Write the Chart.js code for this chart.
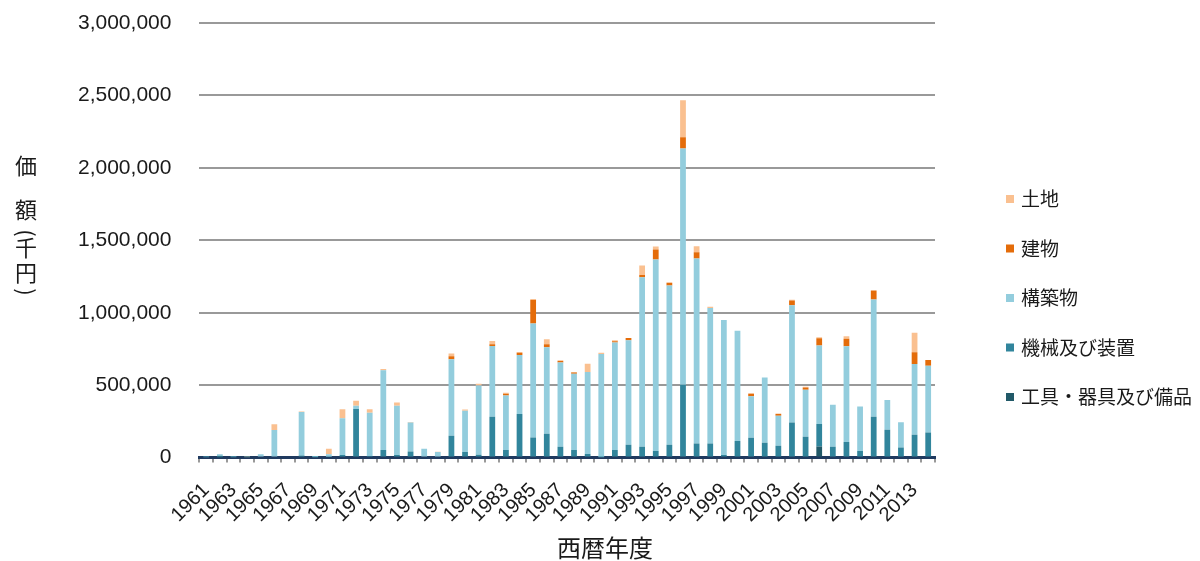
<!DOCTYPE html>
<html>
<head>
<meta charset="utf-8">
<script src="https://cdn.jsdelivr.net/npm/chart.js@4/dist/chart.umd.min.js"></script>
<style>
  html, body { margin: 0; padding: 0; background: #fff; }
  #wrap { width: 1200px; height: 561px; }
</style>
</head>
<body>
<div id="wrap"><canvas id="c" width="1200" height="561"></canvas></div>
<script>
// 西暦年度
const years = [
  '1961','1962','1963','1964','1965','1966','1967','1968','1969','1970',
  '1971','1972','1973','1974','1975','1976','1977','1978','1979','1980',
  '1981','1982','1983','1984','1985','1986','1987','1988','1989','1990',
  '1991','1992','1993','1994','1995','1996','1997','1998','1999','2000',
  '2001','2002','2003','2004','2005','2006','2007','2008','2009','2010',
  '2011','2012','2013','2014'
];

// 価額(千円) by asset class, stacked bottom to top
const tools = [ // 工具・器具及び備品
  0, 3000, 0, 0, 0, 0, 0, 0, 0, 0,
  0, 0, 0, 0, 0, 0, 0, 0, 0, 0,
  0, 0, 0, 0, 0, 0, 0, 0, 0, 0,
  0, 0, 0, 0, 0, 0, 0, 0, 0, 0,
  0, 0, 0, 0, 0, 76000, 0, 0, 0, 0,
  0, 0, 0, 0
];
const machinery = [ // 機械及び装置
  3000, 10000, 2000, 2000, 8000, 8000, 0, 15000, 3000, 5000,
  17000, 335000, 10000, 52000, 17000, 42000, 0, 0, 150000, 39000,
  19000, 282000, 53000, 301000, 139000, 164000, 74000, 53000, 25000, 3000,
  53000, 88000, 74000, 46000, 88000, 503000, 97000, 97000, 18000, 115000,
  136000, 103000, 81000, 242000, 143000, 155000, 74000, 108000, 46000, 282000,
  192000, 69000, 157000, 173000
];
const structures = [ // 構築物
  2000, 10000, 5000, 0, 15000, 182000, 0, 300000, 8000, 18000,
  254000, 23000, 300000, 550000, 340000, 200000, 61000, 38000, 528000, 285000,
  479000, 488000, 375000, 407000, 787000, 597000, 583000, 525000, 565000, 712000,
  741000, 722000, 1171000, 1321000, 1100000, 1630000, 1277000, 936000, 931000, 761000,
  288000, 449000, 207000, 810000, 325000, 542000, 291000, 660000, 307000, 810000,
  205000, 175000, 489000, 461000
];
const buildings = [ // 建物
  0, 0, 0, 0, 0, 0, 0, 0, 0, 0,
  0, 0, 0, 0, 0, 0, 0, 0, 21000, 0,
  0, 12000, 12000, 16000, 162000, 21000, 9000, 9000, 0, 0,
  9000, 16000, 16000, 69000, 18000, 78000, 44000, 0, 0, 0,
  16000, 0, 12000, 32000, 16000, 51000, 0, 53000, 0, 62000,
  0, 0, 81000, 39000
];
const land = [ // 土地
  0, 0, 0, 5000, 0, 40000, 0, 3000, 0, 38000,
  62000, 35000, 23000, 10000, 23000, 3000, 0, 3000, 19000, 7000,
  12000, 23000, 7000, 5000, 7000, 35000, 5000, 3000, 58000, 9000,
  7000, 0, 65000, 21000, 3000, 256000, 41000, 9000, 0, 0,
  4000, 0, 4000, 5000, 5000, 7000, 0, 16000, 0, 0,
  0, 0, 134000, 0
];

const yTicks = [0, 500000, 1000000, 1500000, 2000000, 2500000, 3000000];

const NUM_FONT = '"Liberation Sans", "Noto Sans CJK JP", sans-serif';
const JP_FONT = '"Noto Sans CJK JP", "Liberation Sans", sans-serif';
const TEXT = '#1a1a1a';

// Axis titles: vertical stacked characters on the left, centred caption below
const axisTitles = {
  id: 'axisTitles',
  afterDraw(chart) {
    const ctx = chart.ctx;
    ctx.save();
    ctx.fillStyle = TEXT;
    ctx.textAlign = 'center';
    ctx.textBaseline = 'middle';
    ctx.font = '22px ' + JP_FONT;
    const upright = [['価', 166], ['額', 210], ['千', 248], ['円', 273]];
    upright.forEach(([ch, y]) => ctx.fillText(ch, 26, y));
    // parentheses turned for vertical writing
    [['(', 233], [')', 292]].forEach(([ch, y]) => {
      ctx.save();
      ctx.translate(26, y);
      ctx.rotate(Math.PI / 2);
      ctx.fillText(ch, 0, 0);
      ctx.restore();
    });
    ctx.font = '24px ' + JP_FONT;
    ctx.fillText('西暦年度', 605, 548);
    ctx.restore();
  }
};

// Vertical legend on the right, topmost stack segment first
const sideLegend = {
  id: 'sideLegend',
  afterDraw(chart) {
    const ctx = chart.ctx;
    const sets = chart.data.datasets.slice().reverse();
    ctx.save();
    ctx.font = '19px ' + JP_FONT;
    ctx.textBaseline = 'middle';
    ctx.textAlign = 'left';
    sets.forEach((ds, i) => {
      const y = 199 + i * 49.5;
      ctx.fillStyle = ds.backgroundColor;
      ctx.fillRect(1006, y - 4, 8, 8);
      ctx.fillStyle = TEXT;
      ctx.fillText(ds.label, 1021, y);
    });
    ctx.restore();
  }
};

const barCommon = { categoryPercentage: 0.9, barPercentage: 0.47, borderWidth: 0 };

new Chart(document.getElementById('c'), {
  type: 'bar',
  data: {
    labels: years,
    datasets: [
      { label: '工具・器具及び備品', data: tools, backgroundColor: '#215968', ...barCommon },
      { label: '機械及び装置', data: machinery, backgroundColor: '#31859C', ...barCommon },
      { label: '構築物', data: structures, backgroundColor: '#93CDDD', ...barCommon },
      { label: '建物', data: buildings, backgroundColor: '#E46C0A', ...barCommon },
      { label: '土地', data: land, backgroundColor: '#FAC090', ...barCommon }
    ]
  },
  options: {
    responsive: false,
    animation: false,
    devicePixelRatio: 1,
    layout: { padding: { left: 75, right: 265, top: 23, bottom: 18 } },
    plugins: {
      legend: { display: false },
      tooltip: { enabled: false },
      title: { display: false }
    },
    scales: {
      x: {
        stacked: true,
        offset: true,
        grid: { drawOnChartArea: false, drawTicks: true, tickLength: 5, color: '#999', lineWidth: 2, offset: true },
        border: { display: true, color: '#1F3A5F', width: 3 },
        ticks: {
          autoSkip: false,
          minRotation: 45,
          maxRotation: 45,
          padding: 16,
          color: TEXT,
          font: { family: NUM_FONT, size: 20 },
          callback: (v, i) => (i % 2 === 0 ? years[i] : '')
        }
      },
      y: {
        stacked: true,
        min: 0,
        max: 3000000,
        afterBuildTicks: (axis) => { axis.ticks = yTicks.map(v => ({ value: v })); },
        grid: { color: '#999', lineWidth: 2, drawTicks: true, tickLength: 25, tickColor: 'rgba(0,0,0,0)' },
        border: { display: false },
        ticks: {
          padding: 3,
          color: TEXT,
          font: { family: NUM_FONT, size: 21 },
          callback: (v) => v.toLocaleString('en-US')
        }
      }
    }
  },
  plugins: [axisTitles, sideLegend]
});
</script>
</body>
</html>
